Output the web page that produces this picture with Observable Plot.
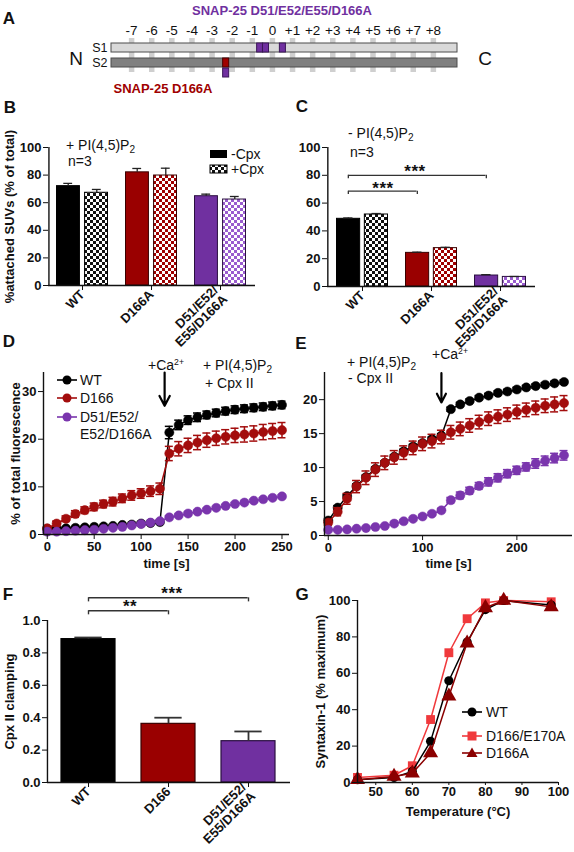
<!DOCTYPE html>
<html>
<head>
<meta charset="utf-8">
<script src="https://cdn.jsdelivr.net/npm/d3@7"></script>
<script src="https://cdn.jsdelivr.net/npm/@observablehq/plot@0.6"></script>
<style>
  html,body{margin:0;padding:0;background:#fff;}
  #fig{position:relative;width:574px;height:852px;overflow:hidden;background:#fff;font-family:"Liberation Sans",Arial,Helvetica,sans-serif;color:#111;}
  .pl{position:absolute;}
  .pl svg{overflow:visible;max-width:none;}
  .t{position:absolute;white-space:nowrap;line-height:1;transform:translate(0,-50%);font-size:14px;}
  .c{transform:translate(-50%,-50%);}
  .L{font-weight:bold;font-size:17px;}
  .star{font-weight:bold;font-size:17px;letter-spacing:0.5px;}
  sub{font-size:72%;vertical-align:-0.3em;line-height:0;}
  sup{font-size:62%;vertical-align:0.55em;line-height:0;}
</style>
</head>
<body>
<svg width="0" height="0" style="position:absolute">
  <defs>
    <pattern id="chkK" width="6" height="6" patternUnits="userSpaceOnUse">
      <rect width="6" height="6" fill="#fff"/><rect width="3" height="3" fill="#111"/><rect x="3" y="3" width="3" height="3" fill="#111"/>
    </pattern>
    <pattern id="chkR" width="6" height="6" patternUnits="userSpaceOnUse">
      <rect width="6" height="6" fill="#fff"/><rect width="3" height="3" fill="#a00000"/><rect x="3" y="3" width="3" height="3" fill="#a00000"/>
    </pattern>
    <pattern id="chkP" width="6" height="6" patternUnits="userSpaceOnUse">
      <rect width="6" height="6" fill="#fff"/><rect width="3" height="3" fill="#9a5ccf"/><rect x="3" y="3" width="3" height="3" fill="#9a5ccf"/>
    </pattern>
  </defs>
</svg>
<div id="fig"></div>
<script>
// ================= DATA =================
// Panel A: SNARE layers
const layers = [-7,-6,-5,-4,-3,-2,-1,0,1,2,3,4,5,6,7,8];
const strands = ["S1","S2"];
const helixStart = -8;
const helixEnd = 9.2;
const mutS1 = [-0.61, -0.32, 0.52];
const mutS2 = [-2.3];

// Panels B, C: attached SUVs (% of total)
const groupsAttach = ["WT", "D166A", "D51/E52/\nE55/D166A"];
const attachPIP2NoCpx = [72, 82, 64.7];
const attachPIP2NoCpxErr = [2, 2.8, 1.5];
const attachPIP2Cpx = [67.2, 79.7, 62.3];
const attachPIP2CpxErr = [2.4, 5.3, 2.2];
const attachNoPIP2NoCpx = [48.7, 24.2, 7.9];
const attachNoPIP2NoCpxErr = [0.6, 0.5, 0.6];
const attachNoPIP2Cpx = [51.8, 27.6, 6.9];
const attachNoPIP2CpxErr = [0.7, 0.6, 0.3];
const sigC = [
  {from: "WT", to: "D166A", level: 68.6},
  {from: "WT", to: "D51/E52/\nE55/D166A", level: 80}
];

// Panels D, E: fusion time course
const timeS = [0,10,20,30,40,50,60,70,80,90,100,110,120,130,140,150,160,170,180,190,200,210,220,230,240,250];
const fluoD_WT = [1.2,1.3,1.3,1.4,1.5,1.6,1.7,1.8,2.0,2.1,2.3,2.4,2.6,21.4,23.0,24.0,24.6,25.1,25.5,25.9,26.2,26.4,26.6,26.8,27.0,27.2];
const fluoD_WTErr = [0.2,0.2,0.2,0.2,0.2,0.2,0.2,0.2,0.2,0.2,0.3,0.3,0.3,1.3,1.0,0.9,0.9,0.8,0.8,0.8,0.8,0.8,0.8,0.8,0.8,0.8];
const fluoD_D166 = [1.3,2.3,3.3,4.3,5.1,5.8,6.4,6.9,7.6,8.2,8.6,9.1,9.6,17.0,18.0,18.7,19.3,19.8,20.2,20.5,20.8,21.0,21.2,21.5,21.7,21.9];
const fluoD_D166Err = [0.3,0.5,0.6,0.7,0.7,0.8,0.8,0.9,0.9,1.0,1.0,1.1,1.2,1.5,1.5,1.5,1.5,1.5,1.5,1.5,1.5,1.6,1.6,1.6,1.6,1.6];
const fluoD_Q = [0.6,0.6,0.7,0.8,0.9,1.0,1.2,1.4,1.6,1.9,2.2,2.5,2.8,3.6,4.0,4.4,4.8,5.2,5.6,6.0,6.4,6.7,7.1,7.4,7.7,8.0];
const fluoD_QErr = [0.2,0.2,0.2,0.2,0.2,0.2,0.2,0.2,0.2,0.2,0.2,0.2,0.2,0.3,0.3,0.3,0.3,0.3,0.3,0.3,0.3,0.3,0.3,0.3,0.3,0.3];
const fluoE_WT = [2.2,4.1,5.8,7.3,8.6,9.8,10.7,11.6,12.4,13.1,13.6,14.2,14.7,18.6,19.3,19.8,20.3,20.6,21.0,21.2,21.5,21.8,22.0,22.2,22.4,22.6];
const fluoE_WTErr = [0.3,0.3,0.3,0.3,0.3,0.3,0.3,0.3,0.3,0.3,0.3,0.3,0.3,0.3,0.3,0.3,0.3,0.3,0.3,0.3,0.3,0.3,0.3,0.3,0.3,0.3];
const fluoE_D166 = [1.9,3.5,5.4,7.2,8.5,9.7,10.7,11.5,12.2,12.9,13.5,13.9,14.5,15.2,15.7,16.2,16.7,17.2,17.5,17.8,18.2,18.5,18.8,19.1,19.3,19.5];
const fluoE_D166Err = [0.4,0.6,0.8,0.9,1.0,1.0,1.0,1.0,1.0,1.0,1.0,1.0,1.0,1.0,1.0,1.0,1.0,1.0,1.0,1.0,1.0,1.0,1.0,1.0,1.1,1.1];
const fluoE_Q = [0.83,0.83,0.9,1.0,1.1,1.25,1.4,1.75,2.1,2.45,2.8,3.2,3.7,5.2,5.9,6.6,7.3,7.9,8.5,9.1,9.6,10.1,10.6,11.0,11.4,11.8];
const fluoE_QErr = [0.1,0.1,0.1,0.1,0.1,0.15,0.15,0.2,0.2,0.2,0.2,0.2,0.3,0.4,0.5,0.5,0.5,0.6,0.6,0.6,0.6,0.6,0.7,0.7,0.7,0.7];
const caD = [{t: 125, from: 34, to: 27}];
const caE = [{t: 120, from: 23.9, to: 19.6}];

// Panel F: Cpx II clamping
const groupsClamp = ["WT", "D166", "D51/E52/\nE55/D166A"];
const clamping = [0.885, 0.362, 0.255];
const clampingErr = [0.01, 0.038, 0.06];
const sigF = [
  {from: "WT", to: "D166", level: 1.06},
  {from: "WT", to: "D51/E52/\nE55/D166A", level: 1.14}
];

// Panel G: thermal stability
const tempC = [45,55,60,65,70,75,80,85,98];
const synWT = [1.5,2.8,6.1,22.6,55.9,77.2,95,100,97.5];
const synD166E170A = [2.8,4,9.2,34.6,71.3,90,98.7,100,99.3];
const synD166A = [1.5,3.3,5.1,16.2,47.4,76.6,96,100,96.5];

// ================= STYLE =================
const FONT = '"Liberation Sans", Arial, Helvetica, sans-serif';
const PURPLE = "#7030a0";
const DRED = "#9a0000";
const solidFill = ["#000000", DRED, PURPLE];
const checkFill = ["url(#chkK)", "url(#chkR)", "url(#chkP)"];
const barStroke = ["#000000", "#3a0000", "#2a0f40"];
const baseStyle = {fontFamily: FONT, fontSize: "13px", fontWeight: "bold", color: "#111", background: "transparent", overflow: "visible", maxWidth: "none"};

const fig = document.getElementById("fig");
function place(svg, left, top) {
  const d = document.createElement("div");
  d.className = "pl"; d.style.left = left + "px"; d.style.top = top + "px";
  d.appendChild(svg); fig.appendChild(d);
}
function txt(html, x, y, cls = "", style = "") {
  const d = document.createElement("div");
  d.className = "t " + cls;
  d.style.left = x + "px"; d.style.top = y + "px";
  if (style) d.style.cssText += style;
  d.innerHTML = html; fig.appendChild(d);
}
function marker(x, y, color, shape, w = 20) {
  const s = document.createElementNS("http://www.w3.org/2000/svg", "svg");
  s.setAttribute("width", w); s.setAttribute("height", 14);
  s.style.cssText = `position:absolute;left:${x}px;top:${y - 7}px;overflow:visible`;
  let m = "";
  if (shape === "circle") m = `<circle cx="${w/2}" cy="7" r="4.5" fill="${color}"/>`;
  if (shape === "square") m = `<rect x="${w/2-4.5}" y="2.5" width="9" height="9" fill="${color}"/>`;
  if (shape === "triangle") m = `<path d="M${w/2},1.5L${w/2+5.5},11L${w/2-5.5},11Z" fill="${color}"/>`;
  s.innerHTML = `<line x1="0" x2="${w}" y1="7" y2="7" stroke="${color}" stroke-width="1.6"/>` + m;
  fig.appendChild(s);
}

// ================= PANEL A =================
const halfBox = 0.15;
const strandRows = strands.map(s => ({strand: s, start: helixStart, end: helixEnd}));
const strandFill = {S1: "#d9d9d9", S2: "#808080"};
place(Plot.plot({
  width: 574, height: 95,
  marginLeft: 111, marginRight: 117, marginTop: 38, marginBottom: 23,
  x: {domain: [helixStart, helixEnd]},
  y: {domain: strands, paddingInner: 0.39, paddingOuter: 0.32},
  style: {...baseStyle, fontWeight: "normal"},
  marks: [
    Plot.ruleX(layers, {x: d => d, stroke: "#cfcfcf", strokeWidth: 5.5}),
    Plot.barX(strandRows, {x1: "start", x2: "end", y: "strand", fill: d => strandFill[d.strand], stroke: "#4d4d4d", strokeWidth: 1}),
    Plot.barX(mutS1, {x1: d => d - halfBox, x2: d => d + halfBox, y: () => "S1", fill: PURPLE, stroke: "#3b1758"}),
    Plot.barX(mutS2, {x1: d => d - halfBox, x2: d => d + halfBox, y: () => "S2", fill: "#a00000", stroke: "#4a0000"}),
    Plot.barX(mutS2, {x1: d => d - halfBox, x2: d => d + halfBox, y: () => "S2", dy: 10, fill: PURPLE, stroke: "#3b1758"}),
    Plot.axisX({anchor: "top", ticks: layers, tickSize: 0, tickPadding: 4, tickFormat: d => d > 0 ? "+" + d : String(d), label: null, fontSize: 13.5}),
    Plot.axisY({tickSize: 0, tickPadding: 4, label: null, fontSize: 12.5})
  ]
}), 0, 0);

// ================= BAR PANELS B, C =================
function barPanel(o) {
  const n = o.groups.length;
  const step = (o.width - o.ml - o.mr) / (n - o.pin + 2 * o.pout);
  const bw = step * (1 - o.pin);
  const barW = bw / 2 - 2;
  const cL = barW / 2, cR = bw / 2 + 2 + barW / 2, cap = 5;
  const A = o.groups.map((g, i) => ({g, i, v: o.a[i], e: o.aErr[i]}));
  const B = o.groups.map((g, i) => ({g, i, v: o.b[i], e: o.bErr[i]}));
  const marks = [
    Plot.barY(A, {x: "g", y: "v", fill: d => solidFill[d.i], stroke: d => barStroke[d.i], strokeWidth: 1, insetLeft: 0.5, insetRight: bw / 2 + 2}),
    Plot.barY(B, {x: "g", y: "v", fill: d => checkFill[d.i], stroke: d => barStroke[d.i], strokeWidth: 1, insetLeft: bw / 2 + 2, insetRight: 0.5})
  ];
  for (const [rows, c] of [[A, cL], [B, cR]]) {
    marks.push(
      Plot.ruleX(rows, {x: "g", y1: "v", y2: d => d.v + d.e, dx: c - bw / 2, stroke: "#222", strokeWidth: 1.3}),
      Plot.tickY(rows, {x: "g", y: d => d.v + d.e, insetLeft: c - cap, insetRight: bw - c - cap, stroke: "#222", strokeWidth: 1.3})
    );
  }
  if (o.sig) {
    marks.push(
      Plot.ruleY(o.sig, {x1: "from", x2: "to", y: "level", insetLeft: cL, insetRight: bw - cL, stroke: "#333", strokeWidth: 1.3}),
      Plot.ruleX(o.sig, {x: "from", y1: "level", y2: d => d.level - o.tick, dx: cL - bw / 2, stroke: "#333", strokeWidth: 1.3}),
      Plot.ruleX(o.sig, {x: "to", y1: "level", y2: d => d.level - o.tick, dx: cL - bw / 2, stroke: "#333", strokeWidth: 1.3})
    );
  }
  marks.push(
    Plot.ruleY([0], {stroke: "#111", strokeWidth: 1.4}),
    Plot.ruleX([o.groups[0]], {x: d => d, dx: -(bw / 2 + step * o.pout), stroke: "#111", strokeWidth: 1.4}),
    Plot.axisY({ticks: o.yTicks, tickSize: 5, tickPadding: 2, tickFormat: o.yFormat, label: o.yLabel, labelAnchor: "center", labelOffset: o.labelOffset, labelArrow: false}),
    Plot.axisX({tickRotate: -45, tickSize: 5, tickPadding: 2, label: null})
  );
  return Plot.plot({
    width: o.width, height: o.height,
    marginLeft: o.ml, marginRight: o.mr, marginTop: o.mt, marginBottom: o.mb,
    x: {domain: o.groups, paddingInner: o.pin, paddingOuter: o.pout},
    y: {domain: o.yDomain},
    color: {type: "identity"},
    style: baseStyle,
    marks
  });
}

place(barPanel({
  groups: groupsAttach, a: attachPIP2NoCpx, aErr: attachPIP2NoCpxErr, b: attachPIP2Cpx, bErr: attachPIP2CpxErr,
  width: 290, height: 250, ml: 48, mr: 35, mt: 47, mb: 65, pin: 0.24, pout: 0.1,
  yDomain: [0, 100], yTicks: [0, 20, 40, 60, 80, 100], yLabel: "%attached SUVs (% of total)", labelOffset: 44
}), 0, 100);

place(barPanel({
  groups: groupsAttach, a: attachNoPIP2NoCpx, aErr: attachNoPIP2NoCpxErr, b: attachNoPIP2Cpx, bErr: attachNoPIP2CpxErr,
  width: 289, height: 250, ml: 42, mr: 39, mt: 47, mb: 64, pin: 0.24, pout: 0.12,
  yDomain: [0, 100], yTicks: [0, 20, 40, 60, 80, 100], yLabel: null, labelOffset: 30,
  sig: sigC, tick: 2.5
}), 285, 100);

// ================= TIME PANELS D, E =================
function timePanel(o) {
  const marks = [];
  for (const s of o.series) {
    const rows = o.t.map((t, i) => ({t, v: s.v[i], e: s.e[i]}));
    marks.push(
      Plot.ruleX(rows, {x: "t", y1: d => d.v - d.e, y2: d => d.v + d.e, stroke: s.color, strokeWidth: 1.5}),
      Plot.ruleY(rows, {x1: "t", x2: "t", y: d => d.v + d.e, insetLeft: -4, insetRight: -4, stroke: s.color, strokeWidth: 1.5}),
      Plot.ruleY(rows, {x1: "t", x2: "t", y: d => d.v - d.e, insetLeft: -4, insetRight: -4, stroke: s.color, strokeWidth: 1.5}),
      Plot.line(rows, {x: "t", y: "v", stroke: s.color, strokeWidth: 1.5}),
      Plot.dot(rows, {x: "t", y: "v", r: 4.6, fill: s.color, stroke: s.color, strokeWidth: 0.5})
    );
  }
  marks.push(
    Plot.ruleY([0], {stroke: "#111", strokeWidth: 1.4}),
    Plot.ruleX([o.xDomain[0]], {stroke: "#111", strokeWidth: 1.4}),
    Plot.arrow(o.arrow, {x1: "t", x2: "t", y1: "from", y2: "to", stroke: "#000", strokeWidth: 2.2, headLength: 12, headAngle: 55}),
    Plot.axisX({ticks: o.xTicks, tickSize: 5, tickPadding: 2, label: "time [s]", labelAnchor: "center", labelOffset: o.xLabelOffset, labelArrow: false}),
    Plot.axisY({ticks: o.yTicks, tickSize: 5, tickPadding: 2, label: o.yLabel, labelAnchor: "center", labelOffset: o.yLabelOffset, labelArrow: false})
  );
  return Plot.plot({
    width: o.width, height: o.height,
    marginLeft: o.ml, marginRight: o.mr, marginTop: o.mt, marginBottom: o.mb,
    x: {domain: o.xDomain}, y: {domain: o.yDomain},
    style: baseStyle,
    marks
  });
}

place(timePanel({
  t: timeS,
  series: [
    {v: fluoD_WT, e: fluoD_WTErr, color: "#000000"},
    {v: fluoD_D166, e: fluoD_D166Err, color: "#a30d0d"},
    {v: fluoD_Q, e: fluoD_QErr, color: "#7a35ad"}
  ],
  arrow: caD,
  width: 290, height: 230, ml: 43, mr: 1, mt: 32, mb: 36,
  xDomain: [-4, 258], yDomain: [0, 34], xTicks: [0, 50, 100, 150, 200, 250], yTicks: [0, 10, 20, 30],
  yLabel: "% of total fluorescence", yLabelOffset: 33, xLabelOffset: 33
}), 0, 340);

place(timePanel({
  t: timeS,
  series: [
    {v: fluoE_WT, e: fluoE_WTErr, color: "#000000"},
    {v: fluoE_D166, e: fluoE_D166Err, color: "#a30d0d"},
    {v: fluoE_Q, e: fluoE_QErr, color: "#7a35ad"}
  ],
  arrow: caE,
  width: 289, height: 230, ml: 39, mr: 2, mt: 32, mb: 35,
  xDomain: [-4, 259], yDomain: [0, 24], xTicks: [0, 100, 200], yTicks: [0, 5, 10, 15, 20],
  yLabel: null, yLabelOffset: 30, xLabelOffset: 32
}), 285, 340);

// ================= PANEL F =================
(function () {
  const width = 290, ml = 47, mr = 0, pin = 0.32, pout = 0.17;
  const n = groupsClamp.length;
  const step = (width - ml - mr) / (n - pin + 2 * pout);
  const bw = step * (1 - pin);
  const cap = 14;
  const rows = groupsClamp.map((g, i) => ({g, i, v: clamping[i], e: clampingErr[i]}));
  place(Plot.plot({
    width, height: 277, marginLeft: ml, marginRight: mr, marginTop: 45, marginBottom: 70,
    x: {domain: groupsClamp, paddingInner: pin, paddingOuter: pout},
    y: {domain: [0, 1]},
    color: {type: "identity"},
    style: baseStyle,
    marks: [
      Plot.barY(rows, {x: "g", y: "v", fill: d => solidFill[d.i], stroke: d => barStroke[d.i], strokeWidth: 1.2}),
      Plot.ruleX(rows, {x: "g", y1: "v", y2: d => d.v + d.e, stroke: "#333", strokeWidth: 1.8}),
      Plot.tickY(rows, {x: "g", y: d => d.v + d.e, insetLeft: bw / 2 - cap, insetRight: bw / 2 - cap, stroke: "#333", strokeWidth: 1.8}),
      Plot.ruleY(sigF, {x1: "from", x2: "to", y: "level", insetLeft: bw / 2, insetRight: bw / 2, stroke: "#333", strokeWidth: 1.4}),
      Plot.ruleX(sigF, {x: "from", y1: "level", y2: d => d.level - 0.025, stroke: "#333", strokeWidth: 1.4}),
      Plot.ruleX(sigF, {x: "to", y1: "level", y2: d => d.level - 0.025, stroke: "#333", strokeWidth: 1.4}),
      Plot.ruleY([0], {stroke: "#111", strokeWidth: 1.4}),
      Plot.ruleX([groupsClamp[0]], {x: d => d, dx: -(bw / 2 + step * pout), stroke: "#111", strokeWidth: 1.4}),
      Plot.axisY({ticks: [0, 0.2, 0.4, 0.6, 0.8, 1.0], tickFormat: d3.format(".1f"), tickSize: 5, tickPadding: 2, label: "Cpx II clamping", labelAnchor: "center", labelOffset: 43, labelArrow: false}),
      Plot.axisX({tickRotate: -45, tickSize: 5, tickPadding: 2, label: null})
    ]
  }), 0, 575);
})();

// ================= PANEL G =================
(function () {
  const series = [
    {v: synD166E170A, color: "#f0393c", symbol: "square", r: 5},
    {v: synWT, color: "#000000", symbol: "circle", r: 4.6},
    {v: synD166A, color: "#8b0000", symbol: "triangle", r: 5.6}
  ];
  const marks = [];
  for (const s of series) {
    const rows = tempC.map((t, i) => ({t, v: s.v[i]}));
    marks.push(
      Plot.line(rows, {x: "t", y: "v", stroke: s.color, strokeWidth: 1.5}),
      Plot.dot(rows, {x: "t", y: "v", r: s.r, symbol: () => s.symbol, fill: s.color, stroke: "none"})
    );
  }
  marks.push(
    Plot.ruleY([0], {stroke: "#111", strokeWidth: 1.4}),
    Plot.ruleX([45], {stroke: "#111", strokeWidth: 1.4}),
    Plot.axisX({ticks: [50, 60, 70, 80, 90, 100], tickSize: 3, tickPadding: 1, label: "Temperature (°C)", labelAnchor: "center", labelOffset: 33, labelArrow: false}),
    Plot.axisY({ticks: [0, 20, 40, 60, 80, 100], tickSize: 5, tickPadding: 2, label: "Syntaxin-1 (% maximum)", labelAnchor: "center", labelOffset: 42, labelArrow: false})
  );
  place(Plot.plot({
    width: 289, height: 277, marginLeft: 72, marginRight: 16, marginTop: 25, marginBottom: 70,
    x: {domain: [45, 100]}, y: {domain: [0, 100]},
    symbol: {type: "identity"},
    style: baseStyle,
    marks
  }), 285, 575);
})();

// ================= TEXT OVERLAYS =================
// Panel letters
txt("A", 9, 18, "c L");
txt("B", 10, 107, "c L");
txt("C", 302, 106, "c L");
txt("D", 9, 341, "c L");
txt("E", 301, 343, "c L");
txt("F", 8, 594, "c L");
txt("G", 302, 594, "c L");

// Panel A texts
txt("SNAP-25 D51/E52/E55/D166A", 282, 10, "c", `font-weight:bold;font-size:13px;color:${PURPLE}`);
txt("SNAP-25 D166A", 163, 88, "c", "font-weight:bold;font-size:13px;color:#a00000");
txt("N", 76, 58, "c", "font-size:19px");
txt("C", 485, 58, "c", "font-size:19px");

// Panel B texts
txt("+ PI(4,5)P<sub>2</sub>", 66, 145);
txt("n=3", 68, 161);
(function () {
  const s = document.createElementNS("http://www.w3.org/2000/svg", "svg");
  s.setAttribute("width", 20); s.setAttribute("height", 26);
  s.style.cssText = "position:absolute;left:209px;top:149px";
  s.innerHTML = '<rect x="1" y="1" width="17" height="8" fill="#000"/><rect x="1" y="16" width="17" height="8" fill="url(#chkK)" stroke="#000" stroke-width="1"/>';
  fig.appendChild(s);
})();
txt("-Cpx", 231, 154);
txt("+Cpx", 231, 169);

// Panel C texts
txt("- PI(4,5)P<sub>2</sub>", 348, 133);
txt("n=3", 350, 152);
txt("***", 415, 171, "c star");
txt("***", 383, 188, "c star");

// Panel D texts
txt("+Ca<sup>2+</sup>", 148, 365);
txt("+ PI(4,5)P<sub>2</sub>", 203, 365);
txt("+ Cpx II", 205, 383);
marker(57, 380, "#000000", "circle");
marker(57, 398, "#a30d0d", "circle");
marker(57, 417, "#7a35ad", "circle");
txt("WT", 80, 380);
txt("D166", 80, 398);
txt("D51/E52/", 80, 417);
txt("E52/D166A", 80, 434);

// Panel E texts
txt("+ PI(4,5)P<sub>2</sub>", 347, 362);
txt("- Cpx II", 348, 378);
txt("+Ca<sup>2+</sup>", 432, 354);

// Panel F texts
txt("***", 172, 593, "c star");
txt("**", 130, 606, "c star");

// Panel G legend
marker(462, 712, "#000000", "circle");
marker(462, 736, "#f0393c", "square");
marker(462, 753, "#8b0000", "triangle");
txt("WT", 486, 712);
txt("D166/E170A", 486, 736);
txt("D166A", 486, 753);
</script>
</body>
</html>
